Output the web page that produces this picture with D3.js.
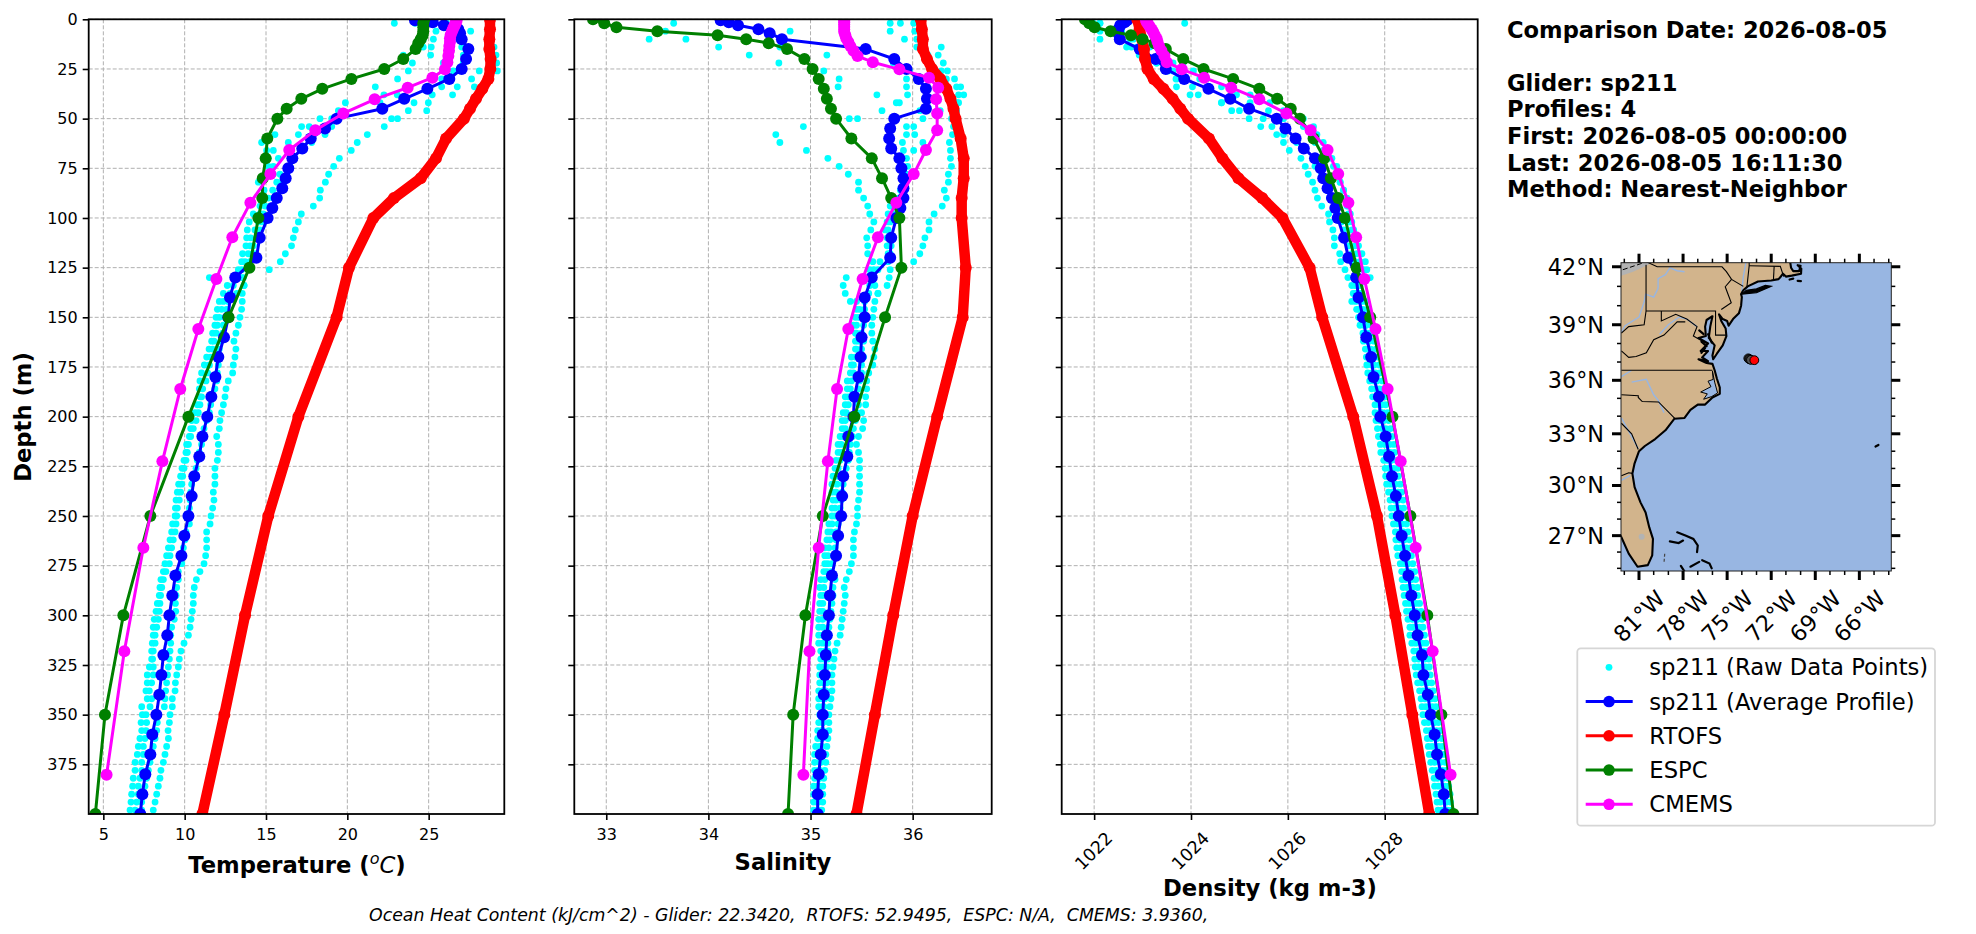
<!DOCTYPE html>
<html>
<head>
<meta charset="utf-8">
<script src="https://cdn.jsdelivr.net/npm/d3@7"></script>
<style>
  body { margin: 0; background: #fff; }
  text { font-family: "DejaVu Sans", sans-serif; fill: #000; }
</style>
</head>
<body>
<div id="chart"></div>
<script>
// depth levels of each source
var rawDepth = [2,6,10,14,18,22,26,30,34,38,42,46,50,54,58,62,66,70,74,78,82,86,90,94,98,102,106,110,114,118,122,126,130,134,138,
  142,146,150,154,158,162,166,170,174,178,182,186,190,194,198,202,206,210,214,218,222,226,230,234,238,242,246,250,254,258,262,266,270,274,278,
  282,286,290,294,298,302,306,310,314,318,322,326,330,334,338,342,346,350,354,358,362,366,370,374,378,382,386,390,394,398];
var gliderDepth = [0.5,1.5,3,5,7,10,15,20,25,30,35,40,45,50,55,60,65,70,75,80,85,90,95,100,110,120,130,140,150,160,170,180,190,200,210,220,230,240,250,260,270,280,290,300,310,320,330,340,350,360,370,380,390,400];
var rtofsDepth = [0,5,10,15,20,25,30,35,40,45,50,60,70,80,90,100,125,150,200,250,300,350,400];
var espcDepth = [0,2,4,6,8,10,12,15,20,25,30,35,40,45,50,60,70,80,90,100,125,150,200,250,300,350,400];
var cmemsDepth = [0.5,1.5,2.6,3.8,5.1,6.4,7.9,9.6,11.4,13.5,15.8,18.5,21.6,25.2,29.4,34.4,40.3,47.4,55.8,65.8,77.9,92.3,109.7,130.7,155.9,186.1,222.5,266.0,318.1,380.2];

// raw glider points, four profiles
var rawTempA = [22.89,24.67,24.67,24.67,23.44,24.00,23.75,23.09,21.72,22.25,19.88,19.45,18.32,17.19,15.55,14.73,15.04,15.14,15.14,14.94,14.53,14.88,14.79,14.63,14.22,13.97,13.85,13.81,13.77,13.56,13.50,13.30,11.52,12.62,12.38,
  12.13,12.01,11.93,11.86,11.72,11.66,11.50,11.35,11.21,11.04,10.94,10.90,10.94,10.78,10.63,10.43,10.37,10.29,10.12,10.08,9.96,9.84,9.75,9.63,9.55,9.47,9.43,9.41,9.26,9.20,9.10,9.00,8.89,8.79,8.69,
  8.54,8.48,8.44,8.32,8.24,8.13,8.07,8.07,8.01,7.97,7.97,7.83,7.70,7.70,7.62,7.70,7.36,7.40,7.32,7.36,7.25,7.15,7.09,6.95,6.95,6.84,6.80,6.74,6.70,6.64];
var rawTempB = [24.16,25.45,25.29,25.16,25.12,25.90,26.52,25.80,25.80,23.07,22.01,22.11,19.04,17.66,16.99,16.37,15.45,15.76,15.45,15.45,15.66,15.41,15.14,14.94,14.63,14.53,14.32,14.06,14.02,13.91,13.71,13.50,13.20,12.99,12.79,
  12.38,12.27,12.13,12.01,11.93,11.80,11.72,11.60,11.52,11.41,11.31,11.11,11.04,10.94,10.84,10.70,10.53,10.37,10.23,10.16,10.08,9.96,9.88,9.82,9.75,9.67,9.55,9.51,9.47,9.41,9.30,9.20,9.10,9.06,8.85,
  8.69,8.59,8.52,8.48,8.44,8.38,8.28,8.18,8.18,8.07,8.03,8.07,8.07,7.97,7.83,7.97,7.87,7.62,7.66,7.62,7.56,7.46,7.46,7.36,7.36,7.25,7.15,7.15,7.05,6.95];
var rawTempC = [25.25,26.62,26.52,27.03,27.13,27.13,28.11,27.64,26.76,25.22,24.10,23.75,22.72,19.04,18.63,17.81,17.19,16.68,16.47,15.86,15.96,15.86,15.45,15.25,14.83,14.73,14.63,14.43,14.22,14.32,14.02,13.91,13.50,13.65,13.20,
  12.68,12.58,12.48,12.38,12.34,12.21,12.13,12.13,12.07,12.01,11.97,11.86,11.72,11.60,11.52,11.35,11.19,11.11,11.04,10.90,10.78,10.70,10.49,10.43,10.37,10.33,10.29,10.37,10.29,10.08,10.02,9.92,9.88,9.82,9.61,
  9.61,9.51,9.47,9.43,9.45,9.36,9.20,9.14,9.14,9.10,9.06,9.00,8.95,8.89,8.83,8.79,8.75,8.38,8.32,8.28,8.18,8.07,7.97,7.87,7.77,7.66,7.56,7.46,7.36,7.36];
var rawTempD = [26.11,27.58,27.03,29.02,29.14,29.18,29.22,28.77,27.81,26.47,24.98,24.88,23.09,22.27,21.23,20.61,20.24,19.51,19.16,18.85,18.65,18.34,18.30,17.91,17.17,16.99,16.80,16.68,16.57,16.19,15.88,15.20,13.61,13.65,13.54,
  13.54,13.50,13.40,13.30,13.15,13.03,13.15,13.09,12.99,12.95,12.68,12.54,12.48,12.38,12.27,12.17,12.13,11.97,12.07,12.07,12.01,11.86,11.86,11.86,11.76,11.80,11.72,11.62,11.56,11.35,11.35,11.35,11.29,11.19,10.94,
  10.72,10.59,10.53,10.53,10.47,10.39,10.33,10.23,9.96,9.77,9.67,9.61,9.51,9.43,9.41,9.24,9.24,9.10,9.06,8.98,9.00,8.89,8.79,8.69,8.54,8.48,8.38,8.28,8.18,8.07];

var rawSalA = [33.66,33.58,33.42,34.10,34.40,34.69,35.13,35.28,35.27,35.65,35.84,35.70,35.38,34.93,34.66,34.70,34.96,35.17,35.28,35.37,35.47,35.47,35.52,35.56,35.58,35.62,35.59,35.55,35.56,35.56,35.61,35.62,35.35,35.32,35.34,
  35.39,35.45,35.44,35.42,35.44,35.44,35.44,35.40,35.40,35.39,35.36,35.36,35.34,35.34,35.32,35.31,35.31,35.29,35.27,35.27,35.25,35.24,35.22,35.21,35.21,35.22,35.21,35.21,35.18,35.17,35.16,35.14,35.14,35.14,35.13,
  35.10,35.09,35.10,35.09,35.09,35.08,35.08,35.08,35.08,35.10,35.10,35.09,35.09,35.09,35.08,35.08,35.08,35.09,35.08,35.07,35.07,35.05,35.04,35.04,35.04,35.04,35.03,35.03,35.03,35.03];
var rawSalB = [35.88,34.80,33.78,34.70,35.16,35.81,35.97,35.94,35.94,35.95,35.87,36.07,35.46,35.94,35.94,35.90,35.91,35.94,35.95,35.94,35.93,35.91,35.81,35.78,35.76,35.75,35.73,35.76,35.75,35.76,35.68,35.58,35.55,35.58,35.57,
  35.45,35.48,35.47,35.45,35.45,35.47,35.45,35.44,35.42,35.42,35.40,35.39,35.37,35.37,35.35,35.34,35.34,35.32,35.30,35.30,35.29,35.27,35.26,35.26,35.25,35.25,35.24,35.24,35.21,35.20,35.19,35.18,35.17,35.17,35.16,
  35.14,35.13,35.13,35.12,35.12,35.12,35.12,35.12,35.12,35.14,35.13,35.12,35.12,35.13,35.12,35.12,35.12,35.12,35.12,35.11,35.11,35.09,35.09,35.09,35.08,35.08,35.07,35.07,35.06,35.06];
var rawSalC = [35.78,35.78,35.92,36.04,36.15,36.30,36.34,36.41,36.47,36.50,36.45,36.43,36.10,36.01,36.02,36.10,36.01,35.87,35.89,35.91,35.91,35.88,35.86,35.84,35.81,35.78,35.76,35.75,35.79,35.78,35.76,35.66,35.60,35.63,35.66,
  35.53,35.53,35.53,35.52,35.50,35.52,35.50,35.52,35.50,35.50,35.48,35.47,35.47,35.47,35.45,35.44,35.42,35.41,35.39,35.38,35.37,35.35,35.34,35.32,35.31,35.30,35.29,35.28,35.27,35.25,35.25,35.24,35.23,35.21,35.20,
  35.24,35.22,35.22,35.21,35.20,35.19,35.18,35.18,35.17,35.17,35.17,35.16,35.16,35.16,35.15,35.14,35.13,35.12,35.12,35.12,35.11,35.11,35.10,35.10,35.09,35.09,35.09,35.08,35.08,35.08];
var rawSalD = [36.01,36.02,36.04,36.28,36.25,36.17,36.28,36.33,36.43,36.45,36.43,36.27,36.38,36.40,36.39,36.36,36.37,36.37,36.38,36.35,36.35,36.31,36.33,36.29,36.21,36.16,36.16,36.12,36.10,36.07,36.01,35.78,35.77,35.75,35.66,
  35.63,35.62,35.61,35.60,35.60,35.61,35.63,35.62,35.61,35.57,35.55,35.55,35.54,35.54,35.50,35.52,35.51,35.47,35.45,35.47,35.48,35.48,35.48,35.48,35.48,35.47,35.46,35.46,35.45,35.43,35.42,35.42,35.42,35.40,35.38,
  35.35,35.33,35.34,35.33,35.32,35.31,35.30,35.29,35.26,35.24,35.23,35.22,35.21,35.21,35.21,35.20,35.19,35.18,35.18,35.18,35.17,35.16,35.15,35.15,35.14,35.13,35.12,35.12,35.12,35.11];

var rawDenA = [1022.12,1022.57,1022.81,1023.15,1023.50,1023.84,1024.05,1024.32,1024.80,1025.22,1025.63,1025.91,1026.32,1026.53,1026.60,1026.73,1026.84,1026.91,1027.01,1027.01,1027.08,1027.15,1027.22,1027.25,1027.29,1027.32,1027.36,1027.39,1027.46,1027.53,1027.60,1027.63,1027.70,1027.49,1027.53,
  1027.60,1027.66,1027.69,1027.73,1027.73,1027.78,1027.82,1027.85,1027.89,1027.90,1027.95,1027.98,1028.02,1028.02,1028.06,1028.08,1028.12,1028.15,1028.19,1028.20,1028.24,1028.27,1028.28,1028.32,1028.35,1028.38,1028.39,1028.44,1028.45,1028.48,1028.51,1028.54,1028.55,1028.58,1028.62,
  1028.64,1028.68,1028.68,1028.72,1028.75,1028.77,1028.79,1028.82,1028.85,1028.89,1028.91,1028.92,1028.94,1028.97,1029.00,1029.04,1029.06,1029.09,1029.11,1029.15,1029.18,1029.19,1029.21,1029.25,1029.27,1029.30,1029.32,1029.35,1029.36,1029.38];
var rawDenB = [1023.87,1022.53,1022.74,1022.88,1023.36,1023.63,1023.63,1024.18,1024.63,1024.94,1025.22,1025.60,1025.91,1026.32,1026.53,1026.56,1026.73,1026.84,1026.94,1027.01,1027.08,1027.15,1027.18,1027.22,1027.25,1027.25,1027.32,1027.32,1027.39,1027.42,1027.49,1027.56,1027.60,1027.42,1027.46,
  1027.52,1027.55,1027.60,1027.62,1027.65,1027.68,1027.71,1027.77,1027.78,1027.81,1027.84,1027.89,1027.92,1027.94,1027.95,1027.98,1028.02,1028.06,1028.10,1028.11,1028.14,1028.18,1028.19,1028.22,1028.27,1028.28,1028.30,1028.34,1028.35,1028.38,1028.41,1028.45,1028.46,1028.48,1028.53,
  1028.56,1028.58,1028.60,1028.64,1028.65,1028.68,1028.71,1028.73,1028.77,1028.80,1028.83,1028.84,1028.85,1028.89,1028.91,1028.96,1028.98,1028.99,1029.03,1029.07,1029.08,1029.11,1029.13,1029.15,1029.19,1029.21,1029.24,1029.26,1029.28,1029.29];
var rawDenC = [1022.12,1022.36,1022.53,1022.77,1023.08,1023.29,1023.53,1023.70,1023.70,1023.98,1024.63,1024.84,1025.49,1025.67,1025.91,1026.18,1026.32,1026.53,1026.56,1026.70,1026.80,1026.84,1026.91,1027.01,1027.01,1027.11,1027.15,1027.22,1027.25,1027.32,1027.39,1027.42,1027.46,1027.39,1027.39,
  1027.40,1027.46,1027.52,1027.57,1027.60,1027.65,1027.69,1027.70,1027.73,1027.74,1027.78,1027.82,1027.83,1027.89,1027.90,1027.90,1027.95,1027.95,1028.00,1028.01,1028.05,1028.09,1028.11,1028.12,1028.15,1028.20,1028.21,1028.24,1028.26,1028.31,1028.31,1028.33,1028.36,1028.40,1028.43,
  1028.43,1028.46,1028.47,1028.51,1028.53,1028.57,1028.58,1028.60,1028.64,1028.68,1028.70,1028.70,1028.73,1028.76,1028.79,1028.83,1028.85,1028.88,1028.90,1028.94,1028.96,1028.98,1029.00,1029.03,1029.06,1029.09,1029.11,1029.14,1029.15,1029.17];
var rawDenD = [1021.98,1022.12,1022.12,1022.67,1022.93,1023.29,1023.50,1023.69,1024.03,1024.15,1024.63,1025.00,1025.20,1025.44,1025.77,1025.91,1026.03,1026.27,1026.36,1026.42,1026.51,1026.56,1026.61,1026.70,1026.84,1026.86,1026.93,1026.96,1026.96,1027.07,1027.09,1027.18,1027.24,1027.32,1027.35,
  1027.32,1027.42,1027.46,1027.49,1027.55,1027.56,1027.60,1027.62,1027.63,1027.65,1027.69,1027.73,1027.75,1027.80,1027.80,1027.82,1027.85,1027.87,1027.91,1027.92,1027.98,1028.01,1028.02,1028.04,1028.08,1028.11,1028.13,1028.15,1028.18,1028.22,1028.23,1028.25,1028.27,1028.32,1028.35,
  1028.36,1028.38,1028.40,1028.43,1028.45,1028.48,1028.52,1028.52,1028.56,1028.60,1028.62,1028.63,1028.65,1028.68,1028.72,1028.75,1028.77,1028.79,1028.82,1028.86,1028.88,1028.90,1028.92,1028.95,1028.98,1029.02,1029.03,1029.06,1029.08,1029.10];

// average and model profiles
var gliderTemp = [24.16,25.25,25.94,26.82,26.93,27.03,27.44,27.30,27.03,26.27,24.92,23.50,22.15,19.34,18.63,17.75,17.23,16.62,16.37,16.21,16.00,15.66,15.39,15.10,14.61,14.41,13.11,12.79,12.68,12.42,12.07,11.89,11.64,11.39,11.09,10.90,10.59,10.43,10.23,9.98,9.80,9.43,9.24,9.06,8.93,8.69,8.57,8.44,8.26,8.01,7.89,7.58,7.40,7.27];
var gliderSal = [34.12,34.20,34.29,34.49,34.60,34.72,35.54,35.82,35.94,36.06,36.13,36.14,36.13,35.82,35.78,35.77,35.79,35.87,35.89,35.91,35.91,35.91,35.88,35.84,35.79,35.78,35.60,35.53,35.53,35.50,35.49,35.47,35.43,35.42,35.37,35.36,35.32,35.31,35.30,35.27,35.25,35.21,35.19,35.18,35.16,35.15,35.14,35.13,35.12,35.12,35.10,35.08,35.07,35.07];
var gliderDen = [1022.68,1022.63,1022.54,1022.50,1022.50,1022.53,1022.94,1023.27,1023.48,1023.86,1024.36,1024.81,1025.20,1025.77,1025.95,1026.16,1026.33,1026.56,1026.68,1026.73,1026.82,1026.91,1026.98,1027.03,1027.16,1027.25,1027.41,1027.46,1027.55,1027.62,1027.72,1027.77,1027.88,1027.91,1028.02,1028.09,1028.15,1028.23,1028.29,1028.35,1028.42,1028.49,1028.55,1028.62,1028.68,1028.77,1028.80,1028.89,1028.95,1029.03,1029.08,1029.16,1029.22,1029.25];

var rtofsTemp = [28.77,28.77,28.73,28.73,28.81,28.79,28.67,28.30,27.91,27.54,27.17,26.07,25.45,24.51,22.87,21.60,20.10,19.34,16.99,15.14,13.71,12.44,11.09];
var rtofsSal = [36.08,36.09,36.10,36.10,36.14,36.19,36.27,36.33,36.37,36.40,36.42,36.47,36.50,36.50,36.48,36.48,36.52,36.49,36.24,36.00,35.81,35.63,35.45];
var rtofsDen = [1022.89,1022.94,1022.99,1023.03,1023.05,1023.10,1023.23,1023.43,1023.62,1023.78,1023.94,1024.37,1024.65,1024.98,1025.47,1025.89,1026.45,1026.71,1027.35,1027.84,1028.22,1028.57,1028.92];

var espcTemp = [24.73,24.67,24.67,24.67,24.63,24.51,24.36,24.20,23.44,22.27,20.25,18.46,17.17,16.27,15.70,15.08,14.98,14.80,14.77,14.53,13.98,12.70,10.23,7.89,6.23,5.10,4.51];
var espcSal = [32.87,32.98,33.10,33.50,34.09,34.37,34.59,34.77,34.94,35.02,35.08,35.13,35.16,35.20,35.25,35.40,35.60,35.70,35.79,35.87,35.89,35.73,35.43,35.12,34.95,34.83,34.78];
var espcDen = [1021.81,1021.90,1022.01,1022.34,1022.76,1023.00,1023.25,1023.48,1023.84,1024.26,1024.87,1025.41,1025.78,1026.06,1026.25,1026.53,1026.75,1026.89,1027.04,1027.18,1027.42,1027.70,1028.16,1028.53,1028.88,1029.17,1029.42];

var cmemsTemp = [26.72,26.68,26.62,26.56,26.48,26.42,26.35,26.31,26.31,26.27,26.25,26.21,26.15,26.00,25.23,23.71,21.68,19.75,18.03,16.43,15.27,14.04,12.93,11.95,10.84,9.73,8.63,7.46,6.29,5.20];
var cmemsSal = [35.33,35.33,35.33,35.33,35.33,35.33,35.34,35.35,35.37,35.39,35.42,35.46,35.61,35.87,36.16,36.25,36.23,36.24,36.24,36.13,36.01,35.84,35.66,35.51,35.37,35.26,35.17,35.08,34.99,34.93];
var cmemsDen = [1023.07,1023.09,1023.12,1023.15,1023.19,1023.22,1023.25,1023.29,1023.31,1023.34,1023.39,1023.45,1023.50,1023.81,1024.27,1024.83,1025.41,1025.97,1026.47,1026.82,1027.04,1027.25,1027.41,1027.58,1027.81,1028.06,1028.33,1028.64,1028.99,1029.36];

// tick labels and text
var depthTicks = [0,25,50,75,100,125,150,175,200,225,250,275,300,325,350,375];
var tempTicks = [5,10,15,20,25];
var salTicks = [33,34,35,36];
var denTicks = [1022,1024,1026,1028];
var infoLines = ["Comparison Date: 2026-08-05","","Glider: sp211","Profiles: 4","First: 2026-08-05 00:00:00","Last: 2026-08-05 16:11:30","Method: Nearest-Neighbor"];
var legendNames = ["sp211 (Raw Data Points)","sp211 (Average Profile)","RTOFS","ESPC","CMEMS"];
var footerText = "Ocean Heat Content (kJ/cm^2) - Glider: 22.3420,  RTOFS: 52.9495,  ESPC: N/A,  CMEMS: 3.9360,";

// map: lon/lat
var lonTicks = [-81,-78,-75,-72,-69,-66];
var latTicks = [42,39,36,33,30,27];
var lonMinor = [-82,-80,-79,-77,-76,-74,-73,-71,-70,-68,-67,-65,-64];
var latMinor = [41,40,38,37,35,34,32,31,29,28,26,25];
var mapLand = [[-84,42.6],[-70.95,42.6],[-70.95,42.25],[-70.7,42.2],[-70.65,41.95],[-70.5,41.78],[-70.1,41.78],[-70.0,42.05],[-70.2,42.08],[-69.95,41.9],[-69.97,41.65],[-70.6,41.55],[-71.0,41.5],[-71.2,41.65],[-71.4,41.45],[-71.5,41.37],[-72.0,41.3],[-72.9,41.25],[-73.6,41.0],[-73.9,40.8],[-74.05,40.6],[-74.0,40.45],[-74.05,40.0],[-74.2,39.6],[-74.6,39.3],[-74.9,38.95],[-75.0,39.2],[-75.3,39.3],[-75.55,39.55],[-75.4,39.2],[-75.1,38.8],[-75.05,38.4],[-75.3,37.9],[-75.7,37.45],[-75.95,37.15],[-76.0,37.35],[-75.85,37.9],[-76.25,38.3],[-76.15,38.9],[-76.0,39.45],[-76.4,39.25],[-76.5,38.9],[-76.45,38.4],[-76.95,38.3],[-76.3,38.0],[-76.8,37.6],[-76.3,37.6],[-76.7,37.25],[-76.3,37.05],[-76.95,37.15],[-76.4,36.95],[-76.0,36.9],[-75.85,36.55],[-75.7,36.1],[-75.5,35.6],[-75.5,35.25],[-76.0,35.05],[-76.5,34.65],[-77.0,34.65],[-77.5,34.35],[-77.9,33.9],[-78.6,33.85],[-79.2,33.2],[-79.9,32.7],[-80.6,32.3],[-81.0,32.0],[-81.3,31.3],[-81.45,30.7],[-81.3,29.9],[-80.9,29.0],[-80.55,28.4],[-80.3,27.5],[-80.05,26.8],[-80.1,25.8],[-80.4,25.2],[-81.1,25.1],[-81.7,25.9],[-82.2,26.9],[-82.8,27.9],[-84,28]];
var mapSound = [[-76.0,36.5],[-75.85,35.9],[-75.65,35.3],[-76.05,35.1],[-76.6,34.95],[-76.35,35.25],[-76.8,35.35],[-76.1,35.65],[-76.3,35.95],[-75.95,36.05]];
var mapLongIsland = [[-74.0,40.6],[-73.0,40.68],[-72.0,41.0],[-72.4,41.05],[-73.0,40.87],[-73.7,40.8]];
var mapIslands = [
  [[-70.75,41.35],[-70.5,41.4]],[[-70.2,41.28],[-69.98,41.27]],
  [[-78.9,26.65],[-78.3,26.55],[-78.0,26.7]],
  [[-78.4,27.2],[-77.8,27.0],[-77.3,26.8],[-77.0,26.4],[-77.05,26.0]],
  [[-78.15,25.15],[-77.9,24.8]],[[-77.5,25.1],[-76.9,25.4]],[[-76.7,25.5],[-76.2,25.3],[-76.05,25.0]],
  [[-64.9,32.27],[-64.7,32.36]],
  [[-76.9,38.7],[-76.6,38.5]],[[-76.75,38.1],[-76.4,37.85]],[[-76.5,37.75],[-76.75,37.5]],[[-76.05,38.05],[-76.3,38.5]]
];
var mapGrayIsland = [[-79.25,25.9],[-79.3,25.3]];
var mapLake = [[-82.2,41.55],[-81.4,41.75],[-80.5,42.05],[-79.9,42.3],[-84,42.4],[-84,41.55]];
var mapLakeOkeechobee = [-80.82,26.93];
var mapBorder = [[-82.1,41.85],[-81.3,42.05],[-80.7,42.2]];
var mapStates = [
  [[-82.2,36.55],[-76.0,36.55]],
  [[-82.2,37.6],[-81.7,37.25],[-81.2,37.3],[-80.5,37.5],[-80.0,38.2],[-79.3,38.45],[-78.4,39.15],[-77.85,39.15]],
  [[-79.48,39.72],[-79.48,39.2],[-78.5,39.55],[-77.75,39.3],[-77.05,38.9],[-77.3,38.4],[-76.4,38.0]],
  [[-80.52,39.72],[-75.79,39.72],[-75.79,38.45],[-75.05,38.45]],
  [[-80.52,42.1],[-80.52,39.72],[-80.65,39.0],[-81.7,38.9],[-82.2,38.55]],
  [[-80.5,42.25],[-79.76,42.0],[-75.35,42.0],[-75.05,41.75],[-74.7,41.36],[-73.9,41.0]],
  [[-74.7,41.36],[-75.13,40.98],[-74.72,40.15],[-75.4,39.8]],
  [[-73.5,42.3],[-73.5,42.05],[-73.65,41.0]],
  [[-73.5,42.05],[-71.38,42.02],[-71.15,41.5]],[[-71.8,42.02],[-71.85,41.32]],
  [[-82.2,35.2],[-81.05,35.15],[-81.05,35.05],[-80.78,34.82],[-79.67,34.8],[-78.55,33.86]],
  [[-82.2,33.6],[-81.5,33.0],[-81.05,32.1]],
  [[-82.2,30.57],[-81.7,30.75],[-81.45,30.71]]
];
var mapRivers = [
  [[-82.2,38.6],[-81.95,38.95],[-81.0,39.4],[-80.65,40.2],[-80.55,40.6],[-80.0,40.45],[-79.7,40.9],[-79.7,41.4],[-79.2,41.6],[-78.9,41.95],[-78.4,41.8],[-77.9,41.75]],
  [[-79.6,38.5],[-79.0,39.0],[-78.3,39.4],[-77.75,39.3],[-77.05,38.9]],
  [[-73.7,42.3],[-73.9,41.5],[-74.0,40.75]],
  [[-82.2,36.2],[-81.5,36.55]],
  [[-81.5,35.9],[-80.5,36.05],[-80.0,35.2],[-79.7,34.9],[-79.3,34.2]],
  [[-82.2,33.9],[-81.05,32.15]],
  [[-82.2,30.3],[-81.6,30.6]]
];
var trackLon = [-73.56,-73.5,-73.44,-73.38];
var trackLat = [37.2,37.16,37.14,37.12];
var glider = [-73.15,37.1];

var fullWidth = 1976;
var fullHeight = 934;
var svg = d3.select("#chart").append("svg")
    .attr("width", fullWidth)
    .attr("height", fullHeight);

var panelTop = 19.3;
var panelBottom = 814;
var yScale = d3.scaleLinear().domain([400, 0]).range([panelBottom, panelTop]);

var panels = [
  {name: "temp", left: 88.7, right: 504.3, domain: [4.1, 29.65], ticks: tempTicks, raw: [rawTempA, rawTempB, rawTempC, rawTempD], glider: gliderTemp, rtofs: rtofsTemp, espc: espcTemp, cmems: cmemsTemp},
  {name: "sal", left: 574.3, right: 991.7, domain: [32.687, 36.774], ticks: salTicks, raw: [rawSalA, rawSalB, rawSalC, rawSalD], glider: gliderSal, rtofs: rtofsSal, espc: espcSal, cmems: cmemsSal},
  {name: "den", left: 1061.7, right: 1477.7, domain: [1021.33, 1029.92], ticks: denTicks, raw: [rawDenA, rawDenB, rawDenC, rawDenD], glider: gliderDen, rtofs: rtofsDen, espc: espcDen, cmems: cmemsDen}
];

var tickFont = 16;

function zipDepth(values, depths) {
  return values.map(function(v, i) { return [v, depths[i]]; });
}

panels.forEach(function(p, idx) {
  var xScale = d3.scaleLinear().domain(p.domain).range([p.left, p.right]);
  var clipId = "clip-" + p.name;
  svg.append("clipPath").attr("id", clipId).append("rect")
      .attr("x", p.left).attr("y", panelTop)
      .attr("width", p.right - p.left).attr("height", panelBottom - panelTop);

  // grid
  var grid = svg.append("g").attr("class", "grid");
  p.ticks.forEach(function(t) {
    grid.append("line").attr("x1", xScale(t)).attr("x2", xScale(t))
        .attr("y1", panelTop).attr("y2", panelBottom);
  });
  depthTicks.forEach(function(t) {
    grid.append("line").attr("x1", p.left).attr("x2", p.right)
        .attr("y1", yScale(t)).attr("y2", yScale(t));
  });
  grid.selectAll("line").attr("stroke", "#b0b0b0").attr("stroke-width", 1).attr("stroke-dasharray", "4,2");

  // data
  var plot = svg.append("g").attr("clip-path", "url(#" + clipId + ")");
  var rawGroup = plot.append("g");
  p.raw.forEach(function(profile) {
    rawGroup.selectAll(null).data(zipDepth(profile, rawDepth)).enter().append("circle")
        .attr("cx", function(d) { return xScale(d[0]); })
        .attr("cy", function(d) { return yScale(d[1]); })
        .attr("r", 3.4)
        .attr("fill", "#00ffff");
  });

  var line = d3.line().x(function(d) { return xScale(d[0]); }).y(function(d) { return yScale(d[1]); });
  function profile(values, depths, color, lw, r) {
    var pts = zipDepth(values, depths);
    plot.append("path").datum(pts).attr("d", line)
        .attr("fill", "none").attr("stroke", color).attr("stroke-width", lw)
        .attr("stroke-linejoin", "round");
    plot.append("g").selectAll("circle").data(pts).enter().append("circle")
        .attr("cx", function(d) { return xScale(d[0]); })
        .attr("cy", function(d) { return yScale(d[1]); })
        .attr("r", r).attr("fill", color);
  }
  profile(p.glider, gliderDepth, "#0000ff", 3, 6);
  profile(p.rtofs, rtofsDepth, "#ff0000", 10.5, 6);
  profile(p.espc, espcDepth, "#008000", 3, 6);
  profile(p.cmems, cmemsDepth, "#ff00ff", 3, 6);

  // axes
  var xAxis = d3.axisBottom(xScale).tickValues(p.ticks).tickSize(6).tickPadding(9).tickFormat(d3.format("d"));
  var xG = svg.append("g").attr("transform", "translate(0," + panelBottom + ")").call(xAxis);
  var yAxis = d3.axisLeft(yScale).tickValues(depthTicks).tickSize(6).tickPadding(5);
  if (idx > 0) yAxis.tickFormat("");
  var yG = svg.append("g").attr("transform", "translate(" + p.left + ",0)").call(yAxis);

  [xG, yG].forEach(function(g) {
    g.select(".domain").remove();
    g.selectAll("line").attr("stroke", "#000").attr("stroke-width", 1.6);
    g.selectAll("text").attr("font-size", tickFont).attr("font-family", "DejaVu Sans").attr("fill", "#000");
  });

  if (p.name === "den") {
    xG.selectAll("text")
        .attr("font-size", 17.5)
        .attr("text-anchor", "middle").attr("dy", 0).attr("y", 0)
        .attr("dominant-baseline", "central")
        .attr("transform", "translate(-1,37) rotate(-45)");
  }

  svg.append("rect").attr("x", p.left).attr("y", panelTop)
      .attr("width", p.right - p.left).attr("height", panelBottom - panelTop)
      .attr("fill", "none").attr("stroke", "#000").attr("stroke-width", 1.8);
});

// axis labels
var labelFont = 22.7;
svg.append("text").attr("transform", "translate(23,417) rotate(-90)")
    .attr("text-anchor", "middle").attr("dominant-baseline", "central")
    .attr("font-size", labelFont).attr("font-weight", "bold").text("Depth (m)");

var tempLabel = svg.append("text").attr("x", 297).attr("y", 873)
    .attr("text-anchor", "middle").attr("font-size", labelFont).attr("font-weight", "bold");
tempLabel.append("tspan").text("Temperature (");
tempLabel.append("tspan").attr("font-style", "italic").attr("font-weight", "normal").attr("font-size", 16).attr("dy", -9).text("o");
tempLabel.append("tspan").attr("font-style", "italic").attr("font-weight", "normal").attr("dy", 9).text("C");
tempLabel.append("tspan").text(")");

svg.append("text").attr("x", 783).attr("y", 870).attr("text-anchor", "middle")
    .attr("font-size", labelFont).attr("font-weight", "bold").text("Salinity");
svg.append("text").attr("x", 1270).attr("y", 896).attr("text-anchor", "middle")
    .attr("font-size", labelFont).attr("font-weight", "bold").text("Density (kg m-3)");

svg.append("text").attr("x", 369).attr("y", 921)
    .attr("font-size", 17.35).attr("font-style", "italic").attr("xml:space", "preserve")
    .text(footerText);

// info text
infoLines.forEach(function(s, i) {
  if (!s) return;
  svg.append("text").attr("x", 1507).attr("y", 37.5 + 26.6 * i)
      .attr("font-size", 22.6).attr("font-weight", "bold").text(s);
});

// map
var mapBox = {left: 1621, right: 1891.3, top: 262.7, bottom: 571};
var projection = d3.geoMercator().scale(841.7).center([-81, 36]).translate([1639, 380.3]);
svg.append("clipPath").attr("id", "clip-map").append("rect")
    .attr("x", mapBox.left).attr("y", mapBox.top)
    .attr("width", mapBox.right - mapBox.left).attr("height", mapBox.bottom - mapBox.top);
var mapG = svg.append("g").attr("clip-path", "url(#clip-map)");
var geoLine = d3.line().x(function(d) { return projection(d)[0]; }).y(function(d) { return projection(d)[1]; });
var water = "#98b6e2";
var land = "#d2b48c";
var lake = "#b3b3b3";

mapG.append("rect").attr("x", mapBox.left).attr("y", mapBox.top)
    .attr("width", mapBox.right - mapBox.left).attr("height", mapBox.bottom - mapBox.top)
    .attr("fill", water);
mapG.append("path").attr("d", geoLine(mapLand) + "Z").attr("fill", land).attr("stroke", "none");
mapG.append("path").attr("d", geoLine(mapSound) + "Z").attr("fill", water).attr("stroke", "#000").attr("stroke-width", 1);
mapG.append("path").attr("d", geoLine(mapLake) + "Z").attr("fill", lake);
mapG.append("path").attr("d", geoLine(mapBorder)).attr("fill", "none").attr("stroke", "#000").attr("stroke-width", 1).attr("stroke-dasharray", "5,2.5");
mapG.append("circle").attr("cx", projection(mapLakeOkeechobee)[0]).attr("cy", projection(mapLakeOkeechobee)[1]).attr("r", 3).attr("fill", lake);
mapRivers.forEach(function(r) {
  mapG.append("path").attr("d", geoLine(r)).attr("fill", "none").attr("stroke", water).attr("stroke-width", 1.4);
});
mapStates.forEach(function(s) {
  mapG.append("path").attr("d", geoLine(s)).attr("fill", "none").attr("stroke", "#000").attr("stroke-width", 1.1);
});
mapG.append("path").attr("d", geoLine(mapLand.slice(3, -1))).attr("fill", "none").attr("stroke", "#000").attr("stroke-width", 2.1).attr("stroke-linejoin", "round");
mapG.append("path").attr("d", geoLine(mapLongIsland) + "Z").attr("fill", "#000").attr("stroke", "#000").attr("stroke-width", 1.2);
mapIslands.forEach(function(s) {
  mapG.append("path").attr("d", geoLine(s)).attr("fill", "none").attr("stroke", "#000").attr("stroke-width", 2.2).attr("stroke-linecap", "round");
});
mapG.append("path").attr("d", geoLine(mapGrayIsland)).attr("fill", "none").attr("stroke", "#444").attr("stroke-width", 1.2).attr("stroke-dasharray", "3,2");

trackLon.forEach(function(lon, i) {
  var pt = projection([lon, trackLat[i]]);
  mapG.append("circle").attr("cx", pt[0]).attr("cy", pt[1]).attr("r", 4.4)
      .attr("fill", "#555").attr("stroke", "#000").attr("stroke-width", 1);
});
mapG.append("circle").attr("cx", projection(glider)[0]).attr("cy", projection(glider)[1]).attr("r", 4.4)
    .attr("fill", "#ff0000").attr("stroke", "#000").attr("stroke-width", 1);

svg.append("rect").attr("x", mapBox.left).attr("y", mapBox.top)
    .attr("width", mapBox.right - mapBox.left).attr("height", mapBox.bottom - mapBox.top)
    .attr("fill", "none").attr("stroke", "#222").attr("stroke-width", 1);

// map ticks on all four sides
var mapTicks = svg.append("g").attr("stroke", "#000");
function lonTick(lon, len, w) {
  var x = projection([lon, 36])[0];
  mapTicks.append("line").attr("x1", x).attr("x2", x).attr("y1", mapBox.top - len).attr("y2", mapBox.top).attr("stroke-width", w);
  mapTicks.append("line").attr("x1", x).attr("x2", x).attr("y1", mapBox.bottom).attr("y2", mapBox.bottom + len).attr("stroke-width", w);
}
function latTick(lat, len, w) {
  var y = projection([-81, lat])[1];
  mapTicks.append("line").attr("x1", mapBox.left - len).attr("x2", mapBox.left).attr("y1", y).attr("y2", y).attr("stroke-width", w);
  mapTicks.append("line").attr("x1", mapBox.right).attr("x2", mapBox.right + len).attr("y1", y).attr("y2", y).attr("stroke-width", w);
}
lonTicks.forEach(function(d) { lonTick(d, 9, 3); });
latTicks.forEach(function(d) { latTick(d, 9, 3); });
lonMinor.forEach(function(d) { lonTick(d, 4, 1.5); });
latMinor.forEach(function(d) { latTick(d, 4, 1.5); });

latTicks.forEach(function(d) {
  svg.append("text").attr("x", 1604).attr("y", projection([-81, d])[1])
      .attr("text-anchor", "end").attr("dominant-baseline", "central")
      .attr("font-size", 22.3).text(d + "°N");
});
lonTicks.forEach(function(d) {
  var x = projection([d, 36])[0];
  svg.append("text").attr("transform", "translate(" + x + ",616) rotate(-45)")
      .attr("text-anchor", "middle").attr("dominant-baseline", "central")
      .attr("font-size", 22.3).text(Math.abs(d) + "°W");
});

// legend
var legendColors = ["#00ffff", "#0000ff", "#ff0000", "#008000", "#ff00ff"];
var legendY = d3.scalePoint().domain(legendNames).range([667.3, 804.3]);
var legend = svg.append("g");
legend.append("rect").attr("x", 1577.3).attr("y", 648.3).attr("width", 357.7).attr("height", 177.4)
    .attr("rx", 3.5).attr("fill", "#fff").attr("stroke", "#d6d6d6").attr("stroke-width", 1.8);
legendNames.forEach(function(name, i) {
  var y = legendY(name);
  if (i > 0) {
    legend.append("line").attr("x1", 1585.7).attr("x2", 1632.7).attr("y1", y).attr("y2", y)
        .attr("stroke", legendColors[i]).attr("stroke-width", 3);
  }
  legend.append("circle").attr("cx", 1609).attr("cy", y).attr("r", i === 0 ? 3.4 : 5.8).attr("fill", legendColors[i]);
  legend.append("text").attr("x", 1649.3).attr("y", y).attr("dominant-baseline", "central")
      .attr("font-size", 22.7).text(name);
});
</script>
</body>
</html>
